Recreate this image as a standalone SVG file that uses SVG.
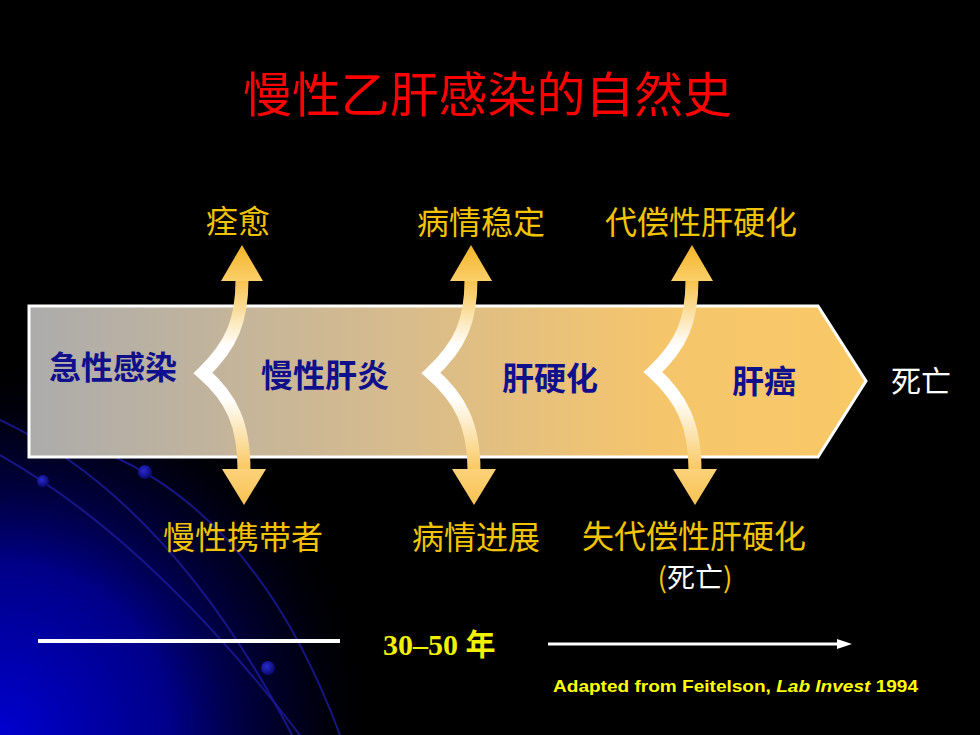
<svg xmlns="http://www.w3.org/2000/svg" width="980" height="735" viewBox="0 0 980 735">
<defs>
<radialGradient id="glow" cx="0" cy="735" r="380" gradientUnits="userSpaceOnUse">
<stop offset="0" stop-color="#0000D0"/>
<stop offset="0.45" stop-color="#0000A0" stop-opacity="0.85"/>
<stop offset="0.8" stop-color="#000040" stop-opacity="0.4"/>
<stop offset="1" stop-color="#000000" stop-opacity="0"/>
</radialGradient>
<radialGradient id="dot" cx="0.4" cy="0.4" r="0.6">
<stop offset="0" stop-color="#2a2ad0"/>
<stop offset="1" stop-color="#0a0a70"/>
</radialGradient>
<linearGradient id="body" x1="0" y1="0" x2="1" y2="0">
<stop offset="0" stop-color="#ACACAC"/>
<stop offset="0.45" stop-color="#D8BC8C"/>
<stop offset="0.75" stop-color="#F5C56C"/>
<stop offset="1" stop-color="#F9C967"/>
</linearGradient>
<linearGradient id="shaft" x1="0" y1="0" x2="0" y2="1">
<stop offset="0" stop-color="#F8C24A"/>
<stop offset="0.35" stop-color="#FFFFFF"/>
<stop offset="0.62" stop-color="#FFFFFF"/>
<stop offset="1" stop-color="#F9C860"/>
</linearGradient>
<linearGradient id="headUp" x1="0" y1="0" x2="0" y2="1">
<stop offset="0" stop-color="#F4B428"/>
<stop offset="1" stop-color="#FBCF6A"/>
</linearGradient>
<linearGradient id="headDown" x1="0" y1="0" x2="0" y2="1">
<stop offset="0" stop-color="#FCD27A"/>
<stop offset="1" stop-color="#F8C252"/>
</linearGradient>
</defs>
<style>
.cjk{font-family:"Noto Sans CJK SC","Noto Sans",sans-serif;}
.yl{fill:#F2C400;font-size:32px;}
.in{fill:#10108C;font-size:32px;font-weight:bold;}
.shaft{fill:none;stroke:url(#shaft);stroke-width:13;stroke-linejoin:miter;stroke-miterlimit:10;}
.arc{fill:none;stroke:#1a1a96;stroke-width:2;opacity:0.85;}
</style>
<rect width="980" height="735" fill="#000"/>
<rect width="980" height="735" fill="url(#glow)"/>
<g id="background-arcs">
<path class="arc" d="M0,420 Q170,500 292,735"/>
<path class="arc" d="M0,455 Q150,540 300,735"/>
<path class="arc" d="M110,455 Q260,520 340,735"/>
<circle cx="43" cy="481" r="6" fill="url(#dot)"/>
<circle cx="145" cy="472" r="7" fill="url(#dot)"/>
<circle cx="268" cy="668" r="7" fill="url(#dot)"/>
</g>
<text x="243" y="112" class="cjk" fill="#FF0000" font-size="48" textLength="489" lengthAdjust="spacingAndGlyphs">慢性乙肝感染的自然史</text>
<g id="main-arrow">
<path d="M29,306 H818 L866,381 L818,457 H29 Z" fill="url(#body)" stroke="#FFFFFF" stroke-width="3"/>
</g>
<g id="stage-labels">
<g id="n-acute"><text x="49" y="379" class="cjk in">急性感染</text></g>
<g id="n-chronic"><text x="261" y="387" class="cjk in">慢性肝炎</text></g>
<g id="n-cirrhosis"><text x="502" y="390" class="cjk in">肝硬化</text></g>
<g id="n-hcc"><text x="732" y="393" class="cjk in">肝癌</text></g>
<g id="n-death"><text x="891" y="392" class="cjk" fill="#FFFFFF" font-size="30">死亡</text></g>
</g>
<g id="connectors">
<g id="split1">
<path class="shaft" d="M242,280 C242,320 232,345 203,373 C232,398 244,425 244,470"/>
<polygon points="221,281 242,245 263,281" fill="url(#headUp)"/>
<polygon points="222,469 266,469 244,505" fill="url(#headDown)"/>
</g>
<g id="split2">
<path class="shaft" d="M471,280 C471,320 461,345 431,373 C460,398 474,425 474,470"/>
<polygon points="450,281 471,245 492,281" fill="url(#headUp)"/>
<polygon points="452,469 496,469 474,505" fill="url(#headDown)"/>
</g>
<g id="split3">
<path class="shaft" d="M692,280 C692,320 682,345 653,372 C682,398 695,425 695,470"/>
<polygon points="671,281 692,245 713,281" fill="url(#headUp)"/>
<polygon points="673,469 717,469 695,505" fill="url(#headDown)"/>
</g>
<g id="timeline">
<line x1="38" y1="641" x2="340" y2="641" stroke="#FFFFFF" stroke-width="4"/>
<line x1="548" y1="644" x2="842" y2="644" stroke="#FFFFFF" stroke-width="3"/>
<polygon points="837,639 852,644 837,649" fill="#FFFFFF"/>
</g>
</g>
<g id="outcomes">
<g id="n-recovery"><text x="206" y="233" class="cjk yl" font-size="31">痊愈</text></g>
<g id="n-stable"><text x="417" y="234" class="cjk yl">病情稳定</text></g>
<g id="n-compensated"><text x="605" y="234" class="cjk yl">代偿性肝硬化</text></g>
<g id="n-carrier"><text x="163" y="549" class="cjk yl">慢性携带者</text></g>
<g id="n-progress"><text x="412" y="549" class="cjk yl">病情进展</text></g>
<g id="n-decompensated"><text x="582" y="548" class="cjk yl">失代偿性肝硬化</text>
<text x="695" y="588" class="cjk" font-size="28" text-anchor="middle"><tspan fill="#F2C400">(</tspan><tspan fill="#FFFFFF">死亡</tspan><tspan fill="#F2C400">)</tspan></text></g>
</g>
<text x="383" y="655" font-family="'Liberation Serif','Noto Sans CJK SC',serif" font-weight="bold" font-size="30" fill="#F0F000">30–50 年</text>
<text x="553" y="692" font-family="'Liberation Sans',Arial,sans-serif" font-weight="bold" font-size="17" fill="#FFFF00" textLength="365" lengthAdjust="spacingAndGlyphs">Adapted from Feitelson, <tspan font-style="italic">Lab Invest</tspan> 1994</text>
</svg>
